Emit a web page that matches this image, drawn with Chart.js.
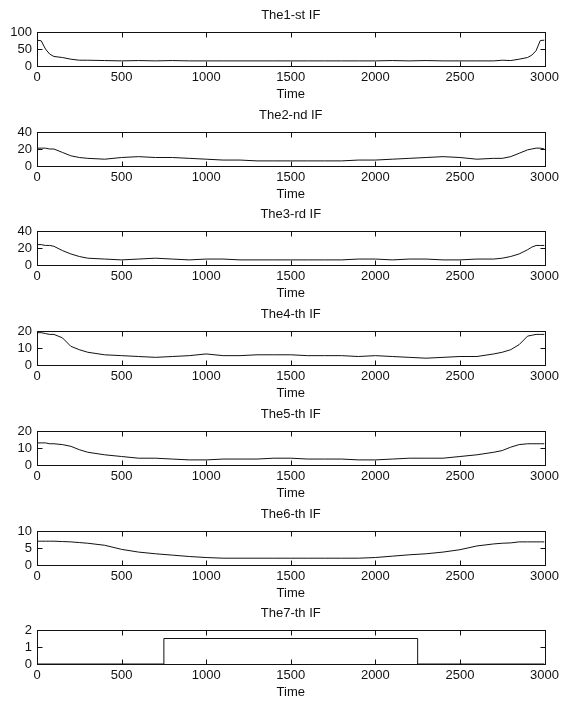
<!DOCTYPE html>
<html>
<head>
<meta charset="utf-8">
<script src="https://cdn.jsdelivr.net/npm/chart.js@4/dist/chart.umd.min.js"></script>
<style>
  body { margin: 0; background: #fff; }
  #wrap { position: relative; width: 563px; height: 704px; overflow: hidden; }
  .panel { position: absolute; left: 0; width: 563px; height: 102px; }
</style>
</head>
<body>
<div id="wrap"></div>
<script>
// sample times (x) shared by IF 1..6
const timeGrid = [0, 25, 50, 75, 100, 150, 200, 250, 300,
    400, 500, 600, 700, 800, 900, 1000, 1100, 1200, 1300, 1400, 1500,
    1600, 1700, 1800, 1900, 2000, 2100, 2200, 2300, 2400, 2500, 2600, 2700,
    2750, 2800, 2850, 2900, 2925, 2950, 2975, 3000];

const if1 = [76, 74, 50, 35, 28, 25, 20, 17, 17,
    16, 15, 16, 15, 16, 15, 15, 15, 15, 15, 15, 15,
    15, 15, 15, 15, 15, 16, 15, 16, 15, 15, 15, 15,
    17, 16, 20, 25, 32, 45, 75, 76];
const if2 = [21, 21, 21, 20, 20, 16, 12, 10, 9,
    8, 10, 11, 10, 10, 9, 8, 7, 7, 6, 6, 6,
    6, 6, 6, 7, 7, 8, 9, 10, 11, 10, 8, 9,
    9, 11, 15, 19, 20, 21, 21, 20];
const if3 = [24, 24, 23, 23, 22, 17, 13, 10, 8,
    7, 6, 7, 8, 7, 6, 7, 7, 6, 6, 6, 6,
    6, 6, 6, 7, 7, 6, 7, 7, 6, 6, 7, 7,
    8, 10, 13, 18, 21, 23, 23, 23];
const if4 = [19, 19, 18.5, 18, 18, 16, 11, 9, 7.5,
    6, 5.5, 5, 4.5, 5, 5.5, 6.5, 5.5, 5.5, 6, 6, 6,
    5.5, 5.5, 5.5, 5, 5.5, 5, 4.5, 4, 4.5, 5, 5, 6.5,
    7.5, 9, 12, 17, 17.5, 18, 18, 18];
const if5 = [13, 13, 13, 12.5, 12.5, 12, 11, 9, 7.5,
    6, 5, 4, 4, 3.5, 3, 3, 3.5, 3.5, 3.5, 4, 4,
    3.5, 3.5, 3.5, 3, 3, 3.5, 4, 4, 4, 5, 6, 7.5,
    8.5, 10.5, 12, 12.5, 12.5, 12.5, 12.5, 12.5];
const if6 = [7, 7, 7, 7, 7, 6.9, 6.8, 6.6, 6.4,
    5.8, 4.6, 3.8, 3.3, 2.9, 2.5, 2.2, 2, 2, 2, 2, 2,
    2, 2, 2, 2, 2.2, 2.6, 3, 3.3, 3.8, 4.5, 5.6, 6.2,
    6.4, 6.5, 6.8, 6.8, 6.8, 6.8, 6.8, 6.8];

// IF 7 is a step signal
const stepTimes = [0, 750, 2250, 3000];
const stepValues = [0, 1.5, 0, 0];

const panelTitles = ['The1-st IF', 'The2-nd IF', 'The3-rd IF', 'The4-th IF',
    'The5-th IF', 'The6-th IF', 'The7-th IF'];
const yMaxes = [100, 40, 40, 20, 20, 10, 2];
const ySteps = [50, 20, 20, 10, 10, 5, 1];
const xTicks = [0, 500, 1000, 1500, 2000, 2500, 3000];

const FONT = { family: '"Liberation Sans", Arial, sans-serif', size: 13 };
const INK = '#111';

// MATLAB-like box with inward ticks
const boxPlugin = {
    id: 'box',
    afterDraw(chart) {
        const { ctx, chartArea: a, scales } = chart;
        const L = Math.round(a.left) + 0.5, R = Math.round(a.right) + 0.5;
        const T = Math.round(a.top) + 0.5, B = Math.round(a.bottom) + 0.5;
        const len = 5;
        ctx.save();
        ctx.strokeStyle = INK;
        ctx.lineWidth = 1;
        ctx.strokeRect(L, T, R - L, B - T);
        ctx.beginPath();
        scales.x.ticks.forEach(t => {
            const px = Math.round(scales.x.getPixelForValue(t.value)) + 0.5;
            ctx.moveTo(px, B); ctx.lineTo(px, B - len);
            ctx.moveTo(px, T); ctx.lineTo(px, T + len);
        });
        scales.y.ticks.forEach(t => {
            const py = Math.round(scales.y.getPixelForValue(t.value)) + 0.5;
            ctx.moveTo(L, py); ctx.lineTo(L + len, py);
            ctx.moveTo(R, py); ctx.lineTo(R - len, py);
        });
        ctx.stroke();
        ctx.restore();
    }
};

const wrap = document.getElementById('wrap');
const series = [if1, if2, if3, if4, if5, if6];

panelTitles.forEach((title, i) => {
    const div = document.createElement('div');
    div.className = 'panel';
    div.style.top = Math.round(i * 99.7) + 'px';
    const canvas = document.createElement('canvas');
    div.appendChild(canvas);
    wrap.appendChild(div);

    let points, stepped = false;
    if (i < 6) {
        points = timeGrid.map((t, k) => ({ x: t, y: series[i][k] }));
    } else {
        points = stepTimes.map((t, k) => ({ x: t, y: stepValues[k] }));
        stepped = 'before';
    }

    new Chart(canvas, {
        type: 'line',
        data: {
            datasets: [{
                data: points,
                borderColor: INK,
                borderWidth: 1,
                pointRadius: 0,
                tension: 0,
                stepped: stepped
            }]
        },
        options: {
            responsive: true,
            maintainAspectRatio: false,
            animation: false,
            layout: { padding: { left: 0, right: 18, top: 0, bottom: 0 } },
            plugins: {
                legend: { display: false },
                tooltip: { enabled: false },
                title: {
                    display: true,
                    text: title,
                    color: INK,
                    fullSize: false,
                    font: { ...FONT, weight: 'normal' },
                    padding: { top: 8, bottom: 8.4 }
                }
            },
            scales: {
                x: {
                    type: 'linear',
                    min: 0,
                    max: 3000,
                    afterBuildTicks: s => { s.ticks = xTicks.map(v => ({ value: v })); },
                    grid: { display: false, drawTicks: false },
                    border: { display: false },
                    ticks: { color: INK, font: FONT, padding: 4, maxRotation: 0, autoSkip: false,
                             callback: v => String(v) },
                    title: { display: true, text: 'Time', color: INK, font: FONT, padding: { top: 0, bottom: 0 } },
                    afterFit: s => { s.height = 36; }
                },
                y: {
                    min: 0,
                    max: yMaxes[i],
                    afterBuildTicks: s => {
                        const vals = [];
                        for (let v = 0; v <= yMaxes[i]; v += ySteps[i]) vals.push({ value: v });
                        s.ticks = vals;
                    },
                    ticks: { color: INK, font: FONT, padding: 5, autoSkip: false,
                             callback: v => String(v) },
                    grid: { display: false, drawTicks: false },
                    border: { display: false },
                    afterFit: s => { s.width = 37; }
                }
            }
        },
        plugins: [boxPlugin]
    });
});
</script>
</body>
</html>
